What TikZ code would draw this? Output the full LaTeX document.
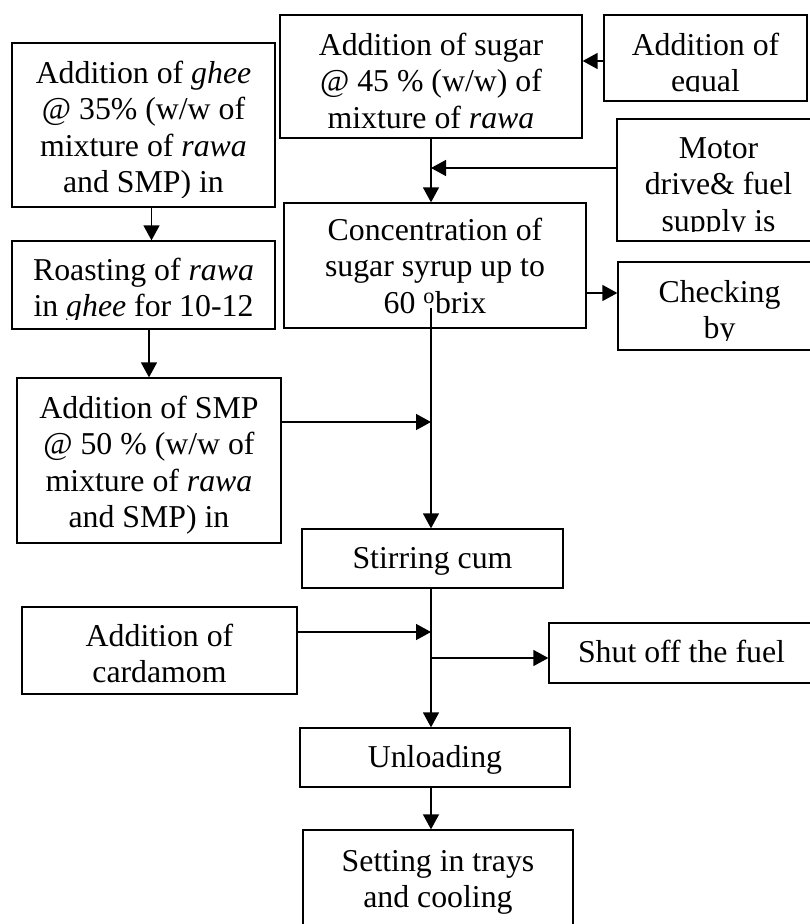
\documentclass[tikz,border=0pt]{standalone}
\usepackage{fontspec}
\setmainfont{Liberation Serif}
\usetikzlibrary{fit,arrows.meta}
\tikzset{
  boxst/.style={draw, line width=1.3pt, inner sep=0pt},
  txtst/.style={anchor=base, inner sep=0pt, font=\fontsize{31.8}{36.5}\selectfont},
  arr/.style={line width=1.5pt, -{Triangle[length=15pt,width=16pt]}},
  ln/.style={line width=1.5pt}
}
\newcommand\flowbox[7]{%
  \node[boxst, fit={(#2,#3) (#4,#5)}] (#1) {};
  \begin{scope}
    \clip (#2,#3) rectangle (#4,#5-10);
    \node[txtst] (#1-t) at ({(#2+#4)/2},#6) {\parbox[t]{330pt}{\centering #7}};
  \end{scope}}
\begin{document}
\begin{tikzpicture}[x=1pt,y=-1pt]
\fill[white] (0,0) rectangle (809,924);
\useasboundingbox (0,0) rectangle (809,924);

\flowbox{ghee}{12}{43}{275}{207}{83}{Addition of \textit{ghee}\\@ 35\% (w/w of\\mixture of \textit{rawa}\\and SMP) in}
\flowbox{roast}{12}{241}{275}{329}{280}{Roasting of \textit{rawa}\\in \textit{ghee} for 10-12}
\flowbox{smp}{17}{378}{281}{543}{418}{Addition of SMP\\@ 50 \% (w/w of\\mixture of \textit{rawa}\\and SMP) in}
\flowbox{sugar}{280}{15}{582}{138}{55}{Addition of sugar\\@ 45 \% (w/w) of\\mixture of \textit{rawa}}
\flowbox{equal}{604}{15}{807}{101}{55}{Addition of\\equal}
\flowbox{motor}{617}{119}{820}{241}{158}{Motor\\drive\& fuel\\supply is}
\flowbox{conc}{284}{203}{586}{328}{240}{Concentration of\\sugar syrup up to\\60 \textsuperscript{o}brix}
\flowbox{check}{618}{262}{821}{350}{302}{Checking\\by}
\flowbox{stir}{302}{529}{563}{588}{568}{Stirring cum}
\flowbox{card}{22}{607}{297}{694}{646}{Addition of\\cardamom}
\flowbox{shut}{549}{623}{814}{683}{662}{Shut off the fuel}
\flowbox{unload}{300}{728}{570}{787}{767}{Unloading}
\flowbox{setting}{303}{830}{573}{950}{871}{Setting in trays\\and cooling}

\coordinate (tM) at (431,168);
\coordinate (tA) at (431,308);
\coordinate (tB) at (431,422);
\coordinate (tC) at (431,632);
\coordinate (tD) at (431,658);
\coordinate (yE) at (0,61);
\coordinate (yK) at (0,293);

\draw[arr] ([xshift=8pt]ghee.south) -- ([xshift=8pt]roast.north);
\draw[arr] (roast.south -| smp.north) -- (smp.north);
\draw[arr] (equal.west |- yE) -- (sugar.east |- yE);
\draw[arr] (sugar.south -| tM) -- (conc.north -| tM);
\draw[arr] (motor.west |- tM) -- (tM);
\draw[arr] (conc.east |- yK) -- (check.west |- yK);
\draw[arr] (tA) -- (stir.north -| tA);
\draw[arr] (smp.east |- tB) -- (tB);
\draw[arr] (stir.south -| tA) -- (unload.north -| tA);
\draw[arr] (card.east |- tC) -- (tC);
\draw[arr] (tD) -- (shut.west |- tD);
\draw[arr] (unload.south -| tA) -- (setting.north -| tA);
\end{tikzpicture}
\end{document}
